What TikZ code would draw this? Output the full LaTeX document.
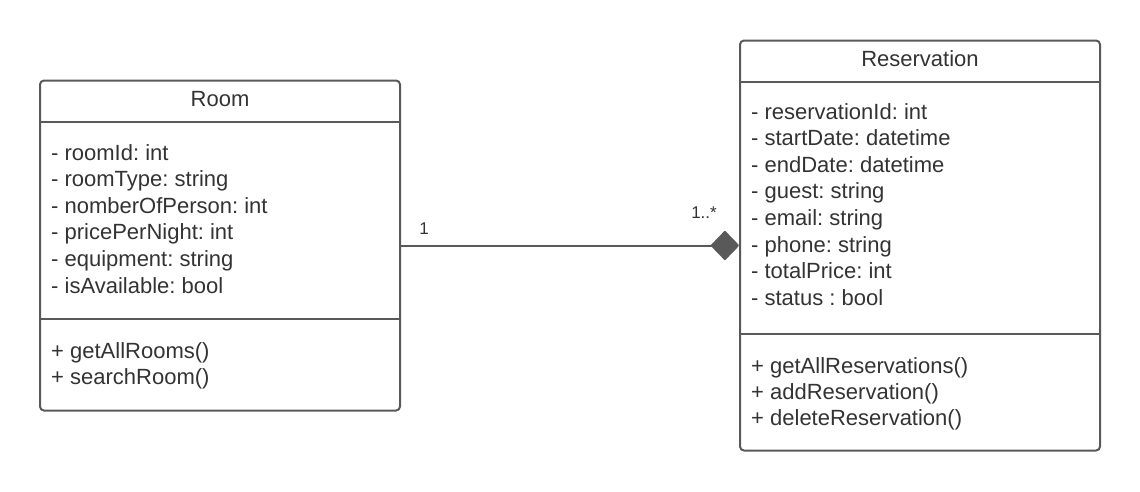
\documentclass[tikz,border=0pt]{standalone}
\usepackage{fontspec}
\setmainfont{Liberation Sans}
\usetikzlibrary{arrows.meta}
\definecolor{umlline}{HTML}{595959}
\definecolor{umltext}{HTML}{333333}
\frenchspacing
\begin{document}
\begin{tikzpicture}[x=1pt,y=-1pt,
  classbox/.style={draw=umlline, line width=2pt, rounded corners=4pt, minimum width=360pt, inner sep=0pt},
  sepline/.style={draw=umlline, line width=2pt},
  member/.style={anchor=base west, inner sep=0pt, text=umltext, font=\fontsize{22}{26}\selectfont},
  classname/.style={anchor=base, inner sep=0pt, text=umltext, font=\fontsize{22}{26}\selectfont},
  mult/.style={anchor=base, inner sep=0pt, text=umltext, font=\fontsize{17}{20}\selectfont},
  compo/.style={draw=umlline, line width=2pt, -{Diamond[fill=umlline, length=29pt, width=30pt, round]}}]
                \useasboundingbox (0,0) rectangle (1140,491);

                \node[classbox, minimum height=330pt] (room) at (220,245.5) {};
                \node[classbox, minimum height=410pt] (res) at (920,245.5) {};

                \draw[sepline] ([yshift=-42pt]room.north west) -- ([yshift=-42pt]room.north east);
                \draw[sepline] ([yshift=-239pt]room.north west) -- ([yshift=-239pt]room.north east);
                \draw[sepline] ([yshift=-42pt]res.north west) -- ([yshift=-42pt]res.north east);
                \draw[sepline] ([yshift=-294pt]res.north west) -- ([yshift=-294pt]res.north east);

                \node[classname] (roomname) at (220,106.7) {Room};
                \node[member] (roomA) at (51,160) {- roomId: int};
                \node[member] (roomB) at (51,186.6) {- roomType: string};
                \node[member] (roomC) at (51,213.2) {- nomberOfPerson: int};
                \node[member] (roomD) at (51,239.8) {- pricePerNight: int};
                \node[member] (roomE) at (51,266.4) {- equipment: string};
                \node[member] (roomF) at (51,293) {- isAvailable: bool};
                \node[member] (roomM1) at (51,358.3) {+ getAllRooms()};
                \node[member] (roomM2) at (51,384.7) {+ searchRoom()};

                \node[classname] (resname) at (920,66.7) {Reservation};
                \node[member] (resA) at (751,119) {- reservationId: int};
                \node[member] (resB) at (751,145.6) {- startDate: datetime};
                \node[member] (resC) at (751,172.2) {- endDate: datetime};
                \node[member] (resD) at (751,198.8) {- guest: string};
                \node[member] (resE) at (751,225.4) {- email: string};
                \node[member] (resF) at (751,252) {- phone: string};
                \node[member] (resG) at (751,278.6) {- totalPrice: int};
                \node[member] (resH) at (751,305.2) {- status : bool};
                \node[member] (resM1) at (751,373.3) {+ getAllReservations()};
                \node[member] (resM2) at (751,399.6) {+ addReservation()};
                \node[member] (resM3) at (751,425.9) {+ deleteReservation()};

                \node[mult] (multroom) at (424,234) {1};
                \node[mult] (multres) at (704,218) {1..*};

                \draw[compo] (room.east) to (res.west);
            \end{tikzpicture}
\end{document}
